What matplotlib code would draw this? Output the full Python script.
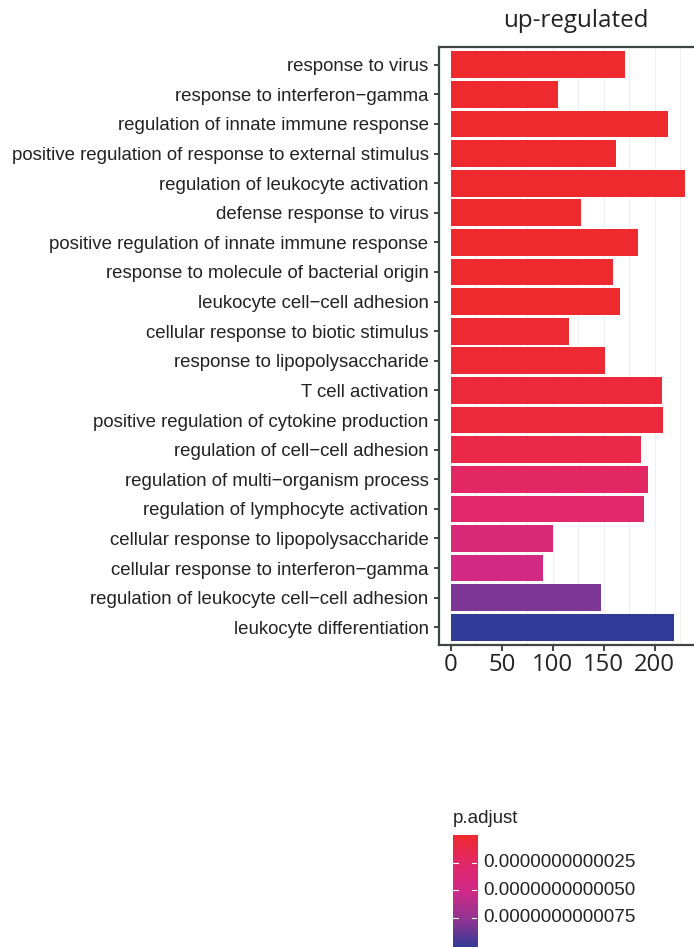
import numpy as np
import matplotlib
matplotlib.use("Agg")
import matplotlib.pyplot as plt
from matplotlib.colors import LinearSegmentedColormap, Normalize

# GO terms, top to bottom
terms = [
    "response to virus",
    "response to interferon\u2212gamma",
    "regulation of innate immune response",
    "positive regulation of response to external stimulus",
    "regulation of leukocyte activation",
    "defense response to virus",
    "positive regulation of innate immune response",
    "response to molecule of bacterial origin",
    "leukocyte cell\u2212cell adhesion",
    "cellular response to biotic stimulus",
    "response to lipopolysaccharide",
    "T cell activation",
    "positive regulation of cytokine production",
    "regulation of cell\u2212cell adhesion",
    "regulation of multi\u2212organism process",
    "regulation of lymphocyte activation",
    "cellular response to lipopolysaccharide",
    "cellular response to interferon\u2212gamma",
    "regulation of leukocyte cell\u2212cell adhesion",
    "leukocyte differentiation",
]
counts = [171, 105, 213, 162, 230, 128, 184, 159, 166, 116,
          151, 207, 208, 187, 193, 190, 100, 90, 147, 219]
p_adjust = [1e-15, 2e-15, 3e-15, 5e-15, 1e-14, 2e-14, 3e-14, 5e-14, 8e-14, 1.5e-13,
            2.5e-13, 5.5e-13, 6e-13, 1.1e-12, 2.3e-12, 2.6e-12, 3.9e-12, 4.8e-12,
            8.2e-12, 1.03e-11]
cbar_ticks = [2.5e-12, 5.0e-12, 7.5e-12]
cbar_labels = ["0.0000000000025", "0.0000000000050", "0.0000000000075"]

cmap = LinearSegmentedColormap.from_list(
    "padj",
    [(0.0, "#EE2A2E"), (0.25, "#E2276A"), (0.5, "#CF2A88"),
     (0.75, "#8F3592"), (1.0, "#2F3B96")])
norm = Normalize(vmin=min(p_adjust), vmax=max(p_adjust))

W, H = 694, 947
fig = plt.figure(figsize=(W / 100, H / 100), dpi=100)

ax = fig.add_axes([439 / W, 1 - 645 / H, (697 - 439) / W, (645 - 47) / H])
ypos = np.arange(1, len(terms) + 1)
ax.barh(ypos, counts, height=0.9, color=cmap(norm(np.array(p_adjust))), zorder=2)
ax.set_ylim(20.6, 0.4)
ax.set_xlim(-11.5, 241.5)

ax.set_xticks([0, 50, 100, 150, 200])
ax.set_xticks(np.arange(25, 250, 50), minor=True)
ax.grid(True, axis="x", which="both", color="#F0F0F0", lw=0.8, zorder=0)
ax.set_yticks(ypos)
ax.set_yticklabels(terms, fontsize=13.4, family="Liberation Sans", color="#222222")
for lab in ax.get_xticklabels():
    lab.set_fontsize(17.2)
    lab.set_family("Open Sans")
    lab.set_color("#222222")
ax.tick_params(axis="y", length=3.5, width=1.4, color="#3F4547", pad=4)
ax.tick_params(axis="x", which="major", length=4, width=1.4, color="#3F4547", pad=2)
ax.tick_params(axis="x", which="minor", length=0)
for s in ax.spines.values():
    s.set_color("#3F4547")
    s.set_linewidth(1.6)

fig.text(576 / W, 1 - 21 / H, "up-regulated", ha="center", va="center",
         fontsize=17.4, family="Open Sans", color="#222222")

# colour legend
cax = fig.add_axes([453 / W, 1 - 950 / H, 24 / W, (950 - 833) / H])
grad = np.linspace(norm.vmin, 1.04e-11, 256).reshape(-1, 1)
cax.imshow(grad, aspect="auto", cmap=cmap, norm=norm, origin="upper",
           extent=[0, 1, grad[-1, 0], grad[0, 0]])
cax.set_ylim(1.04e-11, -0.02e-11)
cax.set_xlim(0, 1)
cax.set_xticks([])
cax.set_yticks([])
for s in cax.spines.values():
    s.set_visible(False)
for t, lab in zip(cbar_ticks, cbar_labels):
    cax.plot([0, 0.2], [t, t], color="white", lw=0.8)
    cax.plot([0.8, 1], [t, t], color="white", lw=0.8)
    cax.text(1.25, t, lab, transform=cax.get_yaxis_transform(), va="center",
             ha="left", fontsize=13.6, family="Liberation Sans", color="#222222")
fig.text(453 / W, 1 - 818 / H, "p.adjust", ha="left", va="center",
         fontsize=13.5, family="Liberation Sans", color="#222222")

fig.savefig("out.png", dpi=100)
